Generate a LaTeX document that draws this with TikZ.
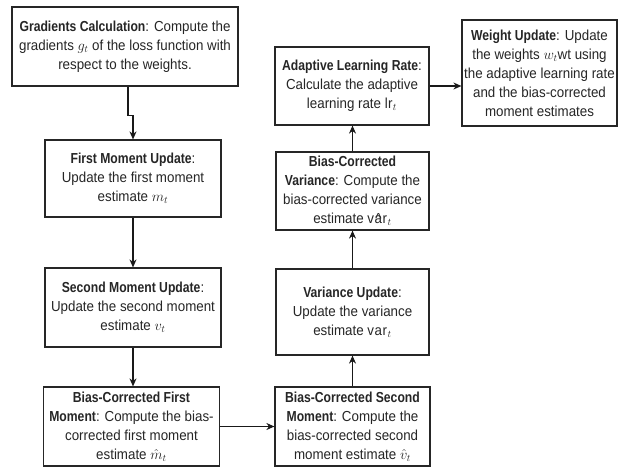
\documentclass[tikz,border=0pt]{standalone}
\usepackage{fontspec}
\setmainfont{Liberation Sans}[UprightFeatures={FakeStretch=0.92}, BoldFeatures={FakeStretch=0.84}]
\usetikzlibrary{arrows.meta}

\tikzset{
  stepbox/.style={draw=black!85, line width=1.2pt, align=center, inner sep=0pt,
    font=\fontsize{14.5}{19}\selectfont, text=black!85},
  arr/.style={draw=black!90, line width=1.2pt, -{Stealth[length=8pt,width=7pt]}}
}

\begin{document}
\begin{tikzpicture}[x=1pt,y=-1pt]
\useasboundingbox[fill=white] (0,0) rectangle (621,469);

% left column: gradient and moment steps
\node[stepbox, minimum width=226pt, minimum height=79pt] (grad) at (125,46.5)
  {\textbf{Gradients Calculation}: Compute the\\ gradients $g_t$ of the loss function with\\ respect to the weights.};
\node[stepbox, minimum width=176pt, minimum height=77pt] (fmu) at (133,178.5)
  {\textbf{First Moment Update}:\\ Update the first moment\\ estimate $m_t$};
\node[stepbox, minimum width=176pt, minimum height=79pt] (smu) at (133,307.5)
  {\textbf{Second Moment Update}:\\ Update the second moment\\ estimate $v_t$};
\node[stepbox, minimum width=176pt, minimum height=79pt] (bcf) at (131.5,426.5)
  {\textbf{Bias-Corrected First}\\ \textbf{Moment}: Compute the bias-\\ corrected first moment\\ estimate $\hat{m}_t$};

% middle column: variance steps, going upward
\node[stepbox, minimum width=155pt, minimum height=79pt] (bcs) at (352.5,426.5)
  {\textbf{Bias-Corrected Second}\\ \textbf{Moment}: Compute the\\ bias-corrected second\\ moment estimate $\hat{v}_t$};
\node[stepbox, minimum width=153pt, minimum height=86pt] (vu) at (352.5,312)
  {\textbf{Variance Update}:\\ Update the variance\\ estimate $\mathrm{var}_t$};
\node[stepbox, minimum width=153pt, minimum height=78pt] (bcv) at (352.5,191)
  {\textbf{Bias-Corrected}\\ \textbf{Variance}: Compute the\\ bias-corrected variance\\ estimate $\mathrm{v\hat{a}r}_t$};
\node[stepbox, minimum width=154pt, minimum height=78pt] (alr) at (352,86)
  {\textbf{Adaptive Learning Rate}:\\ Calculate the adaptive\\ learning rate $\mathrm{lr}_t$};

% final step
\node[stepbox, minimum width=155pt, minimum height=106pt] (wu) at (539.5,73)
  {\textbf{Weight Update}: Update\\ the weights $w_t$wt using\\ the adaptive learning rate\\ and the bias-corrected\\ moment estimates};

% connectors
\draw[arr] ([xshift=3pt]grad.south) -- ++(0,29) -| (fmu.north);
\draw[arr] (fmu.south) -- (smu.north);
\draw[arr] (smu.south) -- (smu.south |- bcf.north);
\draw[arr] (bcf.east) -- (bcf.east -| bcs.west);
\draw[arr] (bcs.north) -- (vu.south);
\draw[arr] (vu.north) -- (bcv.south);
\draw[arr] (bcv.north) -- (bcv.north |- alr.south);
\draw[arr] (alr.east) -- (alr.east -| wu.west);
\end{tikzpicture}
\end{document}
